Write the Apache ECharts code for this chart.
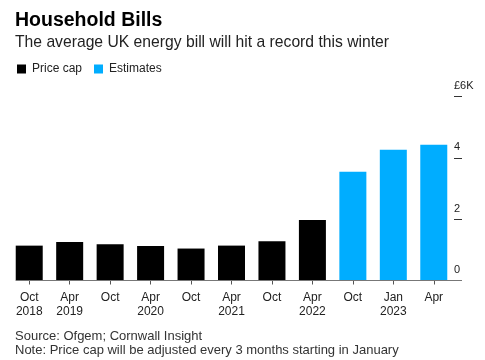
<!DOCTYPE html>
<html>
<head>
<meta charset="utf-8">
<script src="https://cdn.jsdelivr.net/npm/echarts@6/dist/echarts.min.js"></script>
<style>
html,body{margin:0;padding:0;background:#fff;}
#chart{width:485px;height:360px;}
</style>
</head>
<body>
<div id="chart"></div>
<script>
// Data (values in £ thousands)
var categories = ['Oct\n2018','Apr\n2019','Oct','Apr\n2020','Oct','Apr\n2021','Oct','Apr\n2022','Oct','Jan\n2023','Apr'];
var priceCap = [1.137, 1.254, 1.179, 1.126, 1.042, 1.138, 1.277, 1.971, null, null, null];
var estimates = [null, null, null, null, null, null, null, null, 3.55, 4.266, 4.427];
var yTicks = {0:'0', 2:'2', 4:'4', 6:'£6K'};

var FONT = '"Liberation Sans", Arial, Helvetica, sans-serif';
var chart = echarts.init(document.getElementById('chart'), null, {renderer:'canvas'});

var option = {
  animation: false,
  backgroundColor: '#fff',
  textStyle: {fontFamily: FONT},
  title: [
    {text: 'Household Bills', left: 15, top: 11, padding: 0,
     textStyle: {fontFamily: FONT, fontSize: 19.5, fontWeight: 'bold', color: '#000'}},
    {text: 'The average UK energy bill will hit a record this winter', left: 15, top: 35, padding: 0,
     textStyle: {fontFamily: FONT, fontSize: 15.7, fontWeight: 'normal', color: '#222'}},
    {text: 'Source: Ofgem; Cornwall Insight\nNote: Price cap will be adjusted every 3 months starting in January',
     left: 15, top: 329, padding: 0,
     textStyle: {fontFamily: FONT, fontSize: 13, fontWeight: 'normal', color: '#333', lineHeight: 14}}
  ],
  legend: {
    left: 12, top: 58, icon: 'rect', itemWidth: 9, itemHeight: 9, itemGap: 12,
    textStyle: {fontFamily: FONT, fontSize: 12, color: '#222', padding: [0,0,0,1]},
    data: ['Price cap', 'Estimates']
  },
  grid: {left: 9, right: 31, top: 96.5, bottom: 79.5, containLabel: false},
  xAxis: {
    type: 'category', data: categories,
    axisLine: {show: false},
    axisTick: {show: true, alignWithLabel: true, length: 4, lineStyle: {color: '#555'}},
    axisLabel: {fontFamily: FONT, fontSize: 12, color: '#222', lineHeight: 14, margin: 10, interval: 0}
  },
  yAxis: {
    type: 'value', position: 'right', min: 0, max: 6, interval: 2,
    splitLine: {show: false},
    axisLine: {show: false},
    axisTick: {show: true, length: 8, lineStyle: {color: '#333', width: 1}},
    axisLabel: {
      fontFamily: FONT, fontSize: 11, color: '#222', margin: 0, align: 'left',
      verticalAlign: 'bottom', padding: [0,0,5,0],
      formatter: function (v) { return yTicks[v] !== undefined ? yTicks[v] : ''; }
    }
  },
  series: [
    {name: 'Price cap', type: 'bar', data: priceCap, barWidth: 27, barGap: '-100%',
     itemStyle: {color: '#000'}},
    {name: 'Estimates', type: 'bar', data: estimates, barWidth: 27, barGap: '-100%',
     itemStyle: {color: '#00adff'}}
  ]
};
chart.setOption(option);

// Baseline: from the left edge of the first bar to the end of the right-axis ticks
var y0 = chart.convertToPixel({yAxisIndex: 0}, 0);
var xFirst = chart.convertToPixel({xAxisIndex: 0}, 0) - 27 / 2;
var gridRight = chart.getWidth() - 31 + 8;
chart.setOption({
  graphic: [{
    type: 'line', silent: true, z: 10,
    shape: {x1: xFirst, y1: y0, x2: gridRight, y2: y0},
    style: {stroke: '#777', lineWidth: 1}
  }]
});
</script>
</body>
</html>
